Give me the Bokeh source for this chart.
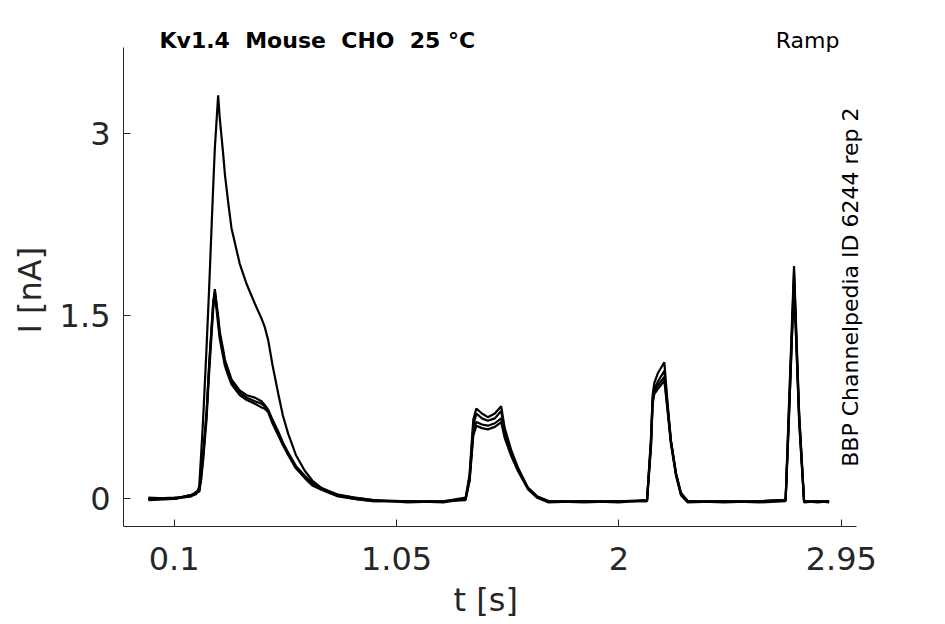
from bokeh.plotting import figure
from bokeh.models import Range1d, FixedTicker, Label, Title
from bokeh.embed import file_html
from bokeh.resources import INLINE
import math

# ---- data ----
t = [-0.01, 0.10, 0.17, 0.195, 0.207, 0.215, 0.224, 0.238, 0.25, 0.267, 0.274, 0.288,
     0.295, 0.309, 0.317, 0.331, 0.345, 0.38, 0.41, 0.445, 0.473, 0.487, 0.502, 0.52,
     0.545, 0.565, 0.587, 0.62, 0.658, 0.69, 0.729, 0.80, 0.87,
     0.95, 1.10, 1.25, 1.345, 1.362, 1.378, 1.391, 1.415, 1.44, 1.47, 1.497, 1.512,
     1.54, 1.568, 1.611, 1.65, 1.70, 1.85, 2.00, 2.12, 2.137, 2.144, 2.151, 2.166,
     2.194, 2.208, 2.222, 2.244, 2.265, 2.294, 2.45, 2.60, 2.712, 2.725, 2.748,
     2.770, 2.791, 2.85, 2.898]

i_high = [0.00, 0.00, 0.02, 0.04, 0.10, 0.35, 0.66, 1.22, 1.75, 2.57, 2.88, 3.31,
          3.12, 2.84, 2.66, 2.43, 2.22, 1.93, 1.76, 1.60, 1.48, 1.41, 1.30, 1.10,
          0.86, 0.68, 0.535, 0.36, 0.23, 0.15, 0.09, 0.03, 0.00,
          -0.02, -0.02, -0.02, 0.00, 0.20, 0.65, 0.74, 0.70, 0.67, 0.70, 0.76, 0.58,
          0.40, 0.26, 0.09, 0.02, -0.02, -0.02, -0.02, -0.01, 0.50, 0.85, 0.95, 1.03,
          1.12, 0.78, 0.48, 0.20, 0.04, -0.02, -0.02, -0.02, -0.01, 0.70, 1.91,
          0.70, -0.02, -0.02, -0.02]

i_low1 = [0.01, 0.00, 0.03, 0.05, 0.06, 0.18, 0.35, 0.68, 1.10, 1.60, 1.72, 1.47,
          1.34, 1.20, 1.12, 1.04, 0.96, 0.87, 0.83, 0.80, 0.78, 0.76, 0.725, 0.64,
          0.535, 0.45, 0.37, 0.26, 0.18, 0.12, 0.08, 0.03, 0.01,
          -0.01, -0.03, -0.02, -0.01, 0.15, 0.55, 0.63, 0.61, 0.60, 0.62, 0.66, 0.52,
          0.37, 0.24, 0.09, 0.02, -0.02, -0.03, -0.02, -0.02, 0.45, 0.80, 0.88, 0.93,
          1.00, 0.74, 0.47, 0.20, 0.04, -0.02, -0.03, -0.02, -0.01, 0.60, 1.80,
          0.65, -0.02, -0.03, -0.02]

i_low2 = [0.00, 0.01, 0.02, 0.06, 0.06, 0.15, 0.32, 0.64, 1.05, 1.56, 1.68, 1.43,
          1.31, 1.17, 1.09, 1.01, 0.94, 0.85, 0.81, 0.78, 0.75, 0.74, 0.71, 0.62,
          0.52, 0.44, 0.36, 0.25, 0.17, 0.11, 0.075, 0.02, 0.00,
          -0.02, -0.02, -0.03, 0.00, 0.15, 0.52, 0.60, 0.58, 0.57, 0.59, 0.63, 0.50,
          0.35, 0.23, 0.08, 0.01, -0.03, -0.02, -0.03, -0.01, 0.42, 0.78, 0.86, 0.90,
          0.97, 0.72, 0.45, 0.19, 0.03, -0.03, -0.02, -0.03, -0.02, 0.60, 1.78,
          0.62, -0.03, -0.02, -0.03]

i_low3 = [-0.01, 0.00, 0.03, 0.05, 0.07, 0.20, 0.38, 0.70, 1.12, 1.62, 1.70, 1.50,
          1.37, 1.23, 1.14, 1.06, 0.98, 0.89, 0.85, 0.83, 0.80, 0.77, 0.73, 0.65,
          0.55, 0.46, 0.38, 0.27, 0.19, 0.13, 0.085, 0.035, 0.01,
          -0.01, -0.02, -0.02, 0.01, 0.18, 0.60, 0.70, 0.66, 0.64, 0.66, 0.72, 0.55,
          0.38, 0.25, 0.09, 0.02, -0.02, -0.02, -0.02, -0.02, 0.48, 0.82, 0.90, 0.96,
          1.05, 0.76, 0.48, 0.21, 0.05, -0.02, -0.02, -0.02, -0.01, 0.65, 1.85,
          0.68, -0.02, -0.02, -0.02]

traces = [i_low1, i_low2, i_low3, i_high]

xtick_vals = [0.1, 1.05, 2, 2.95]
xtick_labels = ["0.1", "1.05", "2", "2.95"]
ytick_vals = [0, 1.5, 3]
ytick_labels = ["0", "1.5", "3"]

title_text = "Kv1.4\u00a0 Mouse\u00a0 CHO\u00a0 25 \u00b0C"
protocol_text = "Ramp"
side_text = "BBP Channelpedia ID 6244 rep 2"
x_label = "t [s]"
y_label = "I [nA]"

FONT = "DejaVu Sans"
GRAY = "#262626"

X_AXIS = (-0.1163, 3.016)
Y_AXIS = (-0.227, 3.702)

p = figure(width=945, height=624, output_backend="svg", toolbar_location=None,
           x_range=Range1d(-0.1163, 3.096), y_range=Range1d(-0.227, 3.924),
           min_border_left=122, min_border_right=70, min_border_top=20,
           min_border_bottom=98)
p.outline_line_color = None
p.grid.visible = False
p.background_fill_color = "white"
p.border_fill_color = "white"

for tr in traces:
    p.line(t, tr, line_color="black", line_width=2.2)

for ax in (p.xaxis[0], p.yaxis[0]):
    ax.axis_line_color = GRAY
    ax.axis_line_width = 1
    ax.major_tick_line_color = GRAY
    ax.major_tick_in = 7
    ax.major_tick_out = 0
    ax.minor_tick_line_color = None
    ax.major_label_text_font = FONT
    ax.major_label_text_font_size = "32px"
    ax.major_label_text_color = GRAY

p.xaxis.bounds = X_AXIS
p.yaxis.bounds = Y_AXIS
p.xaxis.ticker = FixedTicker(ticks=xtick_vals)
p.xaxis.major_label_overrides = dict(zip(xtick_vals, xtick_labels))
p.yaxis.ticker = FixedTicker(ticks=ytick_vals)
p.yaxis.major_label_overrides = dict(zip(ytick_vals, ytick_labels))
p.xaxis.major_label_standoff = 20
p.yaxis.major_label_standoff = 13

# axis titles, positioned along the drawn axis lines
p.add_layout(Title(text=x_label, align="left", offset=330, standoff=12,
                   text_font=FONT, text_font_size="32px", text_font_style="normal",
                   text_color=GRAY), "below")
p.add_layout(Title(text=y_label, align="left", offset=193, standoff=16,
                   text_font=FONT, text_font_size="32px", text_font_style="normal",
                   text_color=GRAY), "left")

p.add_layout(Label(x=0.0377, y=3.76, text=title_text, text_font=FONT,
                   text_font_size="22px", text_font_style="bold",
                   text_color="black", text_align="left", text_baseline="middle"))
p.add_layout(Label(x=2.670, y=3.76, text=protocol_text, text_font=FONT,
                   text_font_size="22px", text_color="black",
                   text_align="left", text_baseline="middle"))
p.add_layout(Label(x=2.990, y=1.737, text=side_text, text_font=FONT,
                   text_font_size="22px", text_color="black", angle=math.pi / 2,
                   text_align="center", text_baseline="middle"))

open("out.html", "w").write(file_html(p, INLINE))
